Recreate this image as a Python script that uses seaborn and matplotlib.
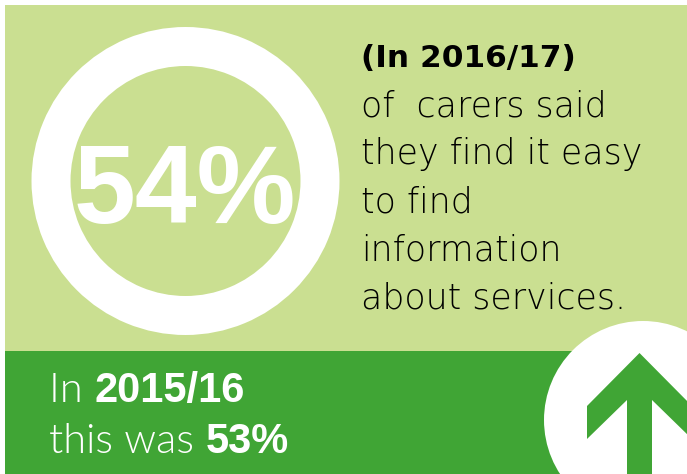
import matplotlib
matplotlib.use("Agg")
import matplotlib.pyplot as plt
import matplotlib.patches as mpatches
import seaborn as sns

# Valores do infográfico
anos = ["2016/17", "2015/16"]
percentuais = [54, 53]
frase = ["of  carers said", "they find it easy", "to find", "information", "about services."]

verde_claro = "#cadf91"
verde_escuro = "#40a535"

sns.set_theme(style="white")
plt.rcParams['font.family'] = ['DejaVu Sans']

W, H = 687, 474
fig = plt.figure(figsize=(W / 100, H / 100), dpi=100)
ax = fig.add_axes([0, 0, 1, 1])
ax.set_xlim(0, W)
ax.set_ylim(H, 0)
ax.axis('off')

# Fundos
ax.add_patch(mpatches.Rectangle((5, 5), W - 5, 346, color=verde_claro, lw=0))
ax.add_patch(mpatches.Rectangle((5, 351), W - 5, H - 351, color=verde_escuro, lw=0))

# Anel branco com o percentual atual
ax.add_patch(mpatches.Wedge((185.5, 181), 154, 0, 360, width=39, color='white', lw=0))
ax.text(185, 223, f"{percentuais[0]}%", color='white', fontsize=80,
        family='Liberation Sans', fontweight='bold', ha='center', va='baseline')

# Texto da direita
ax.text(361, 67, f"(In {anos[0]})", color='black', fontsize=22.5,
        family='DejaVu Sans', fontweight='bold', va='baseline')
for i, linha in enumerate(frase):
    ax.text(361, 116 + i * 48.2, linha, color='black', fontsize=25,
            family='DejaVu Sans', fontweight=200, va='baseline')

# Texto de baixo (partes leves e negritas lado a lado)
fig.canvas.draw()
rend = fig.canvas.get_renderer()


def linha_mista(x, y, partes):
    for txt, peso in partes:
        fam = 'Lato' if peso == 300 else 'Liberation Sans'
        t = ax.text(x, y, txt, color='white', fontsize=30, family=fam,
                    fontweight=peso, va='baseline')
        x += t.get_window_extent(rend).width


linha_mista(49, 402, [("In ", 300), (anos[1], 'bold')])
linha_mista(49, 453, [("this was ", 300), (f"{percentuais[1]}%", 'bold')])

# Círculo com seta (subiu ou desceu)
ax.add_patch(mpatches.Circle((643, 420), 99, color='white', lw=0))
cx = 639.5
sobe = percentuais[0] > percentuais[1]
seta = [(cx, 353), (cx - 52.5, 406), (cx - 52.5, 439), (cx - 12.5, 400), (cx - 12.5, 480),
        (cx + 12.5, 480), (cx + 12.5, 400), (cx + 52.5, 439), (cx + 52.5, 406)]
if not sobe:
    seta = [(x, 840 - y) for x, y in seta]
ax.add_patch(mpatches.Polygon(seta, closed=True, color=verde_escuro, lw=0))

fig.savefig("out.png", dpi=100)
